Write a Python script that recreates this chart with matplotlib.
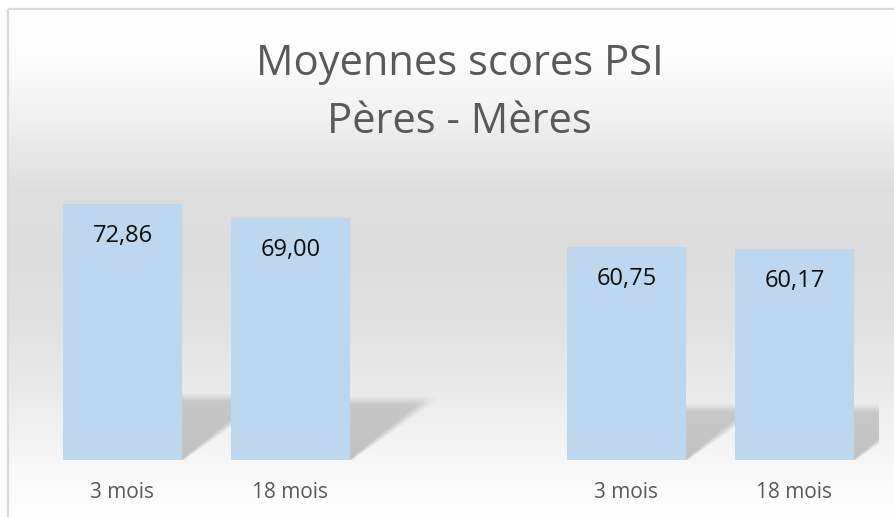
import numpy as np
import matplotlib
matplotlib.use("Agg")
import matplotlib.pyplot as plt
from matplotlib.patches import Rectangle

# ---- data ----
title_line1 = "Moyennes scores PSI"
title_line2 = "Pères - Mères"
categories = ["3 mois", "18 mois", "", "3 mois", "18 mois"]
values = [72.86, 69.00, None, 60.75, 60.17]

W, H = 895, 517
fig = plt.figure(figsize=(W / 100, H / 100), dpi=100)
plt.rcParams['font.family'] = ['Open Sans', 'DejaVu Sans']

# ---- background gradient + border ----
bg = fig.add_axes([0, 0, 1, 1])
bg.set_xlim(0, W)
bg.set_ylim(H, 0)
bg.set_axis_off()
stops_y = [8, 60, 120, 190, 260, 330, 400, 460, 517]
stops_g = [255, 252, 240, 222, 220, 226, 236, 247, 254]
yy = np.arange(8, H + 1)
gray = np.interp(yy, stops_y, stops_g) / 255.0
grad = np.repeat(gray[:, None, None], 3, axis=2)
bg.imshow(grad, extent=[9, W, H, 9], aspect='auto', interpolation='bilinear', zorder=0)
bg.add_patch(Rectangle((8.5, 8.5), W + 60, H + 60, fill=False, edgecolor='#d9d9d9',
                       lw=1.6, zorder=1, clip_on=True))
bg.set_xlim(0, W)
bg.set_ylim(H, 0)

# ---- main axes ----
ax_l, ax_r, ax_b, ax_t = 38.5, 878.5, 460.0, 178.9
ax = fig.add_axes([ax_l / W, (H - ax_b) / H, (ax_r - ax_l) / W, (ax_b - ax_t) / H])
ax.patch.set_alpha(0)
ymax = 80
ax.set_axis_off()

bar_w = 0.71
pos = [i for i, v in enumerate(values) if v is not None]
vals = [v for v in values if v is not None]

# ---- perspective shadows (raster) ----
nx, ny = int(ax_r - ax_l), int(round(ax_b - ax_t))
px_per_cat = (ax_r - ax_l) / len(categories)
px_per_val = (ax_b - ax_t) / ymax
PX, PY = np.meshgrid(np.arange(nx) + 0.5, np.arange(ny) + 0.5)
alpha = np.zeros((ny, nx))
s, k = 0.245, 1.33
for p, v in zip(pos, vals):
    xl = (p - bar_w / 2 + 0.5) * px_per_cat
    xr = (p + bar_w / 2 + 0.5) * px_per_cat
    hs = v * px_per_val * s
    t = PY / hs
    right = xr + k * hs * t
    left = xl + k * hs * t
    br = 4 + 12 * np.clip(t, 0, 1)
    fr = np.clip((right - PX) / br + 0.5, 0, 1)
    fl = np.clip((PX - left) / br + 0.5, 0, 1)
    bt = 9.0
    ft = np.clip((hs - PY) / bt + 0.5, 0, 1)
    a = 0.22 * (1 - 0.3 * np.clip(t, 0, 1)) * fr * fl * ft
    alpha = np.maximum(alpha, a)
img = np.zeros((ny, nx, 4))
img[..., 3] = alpha
ax.imshow(img, extent=[-0.5, len(categories) - 0.5, 0, ymax], origin='lower',
          aspect='auto', interpolation='bilinear', zorder=1)
ax.set_xlim(-0.5, len(categories) - 0.5)
ax.set_ylim(0, ymax)

# ---- bars ----
ax.bar(pos, vals, width=bar_w, color='#BDD7EE', zorder=2)

# ---- value labels ----
for p, v in zip(pos, vals):
    ax.annotate(f"{v:.2f}".replace('.', ','), xy=(p, v), xytext=(0, -38.5),
                textcoords='offset pixels', ha='center', va='baseline',
                fontsize=17, color='#0d0d0d', zorder=3)

# ---- category labels ----
tr = ax.get_xaxis_transform()
for i, c in enumerate(categories):
    if c:
        ax.text(i, (ax_b - 498) / (ax_b - ax_t), c, transform=tr, ha='center',
                va='baseline', fontsize=15, color='#595959', clip_on=False)

# ---- title ----
fig.text(459.5 / W, (H - 75) / H, title_line1, ha='center', va='baseline',
         fontsize=30, color='#595959')
fig.text(459.5 / W, (H - 133) / H, title_line2, ha='center', va='baseline',
         fontsize=30, color='#595959')

fig.savefig("out.png", dpi=100)
